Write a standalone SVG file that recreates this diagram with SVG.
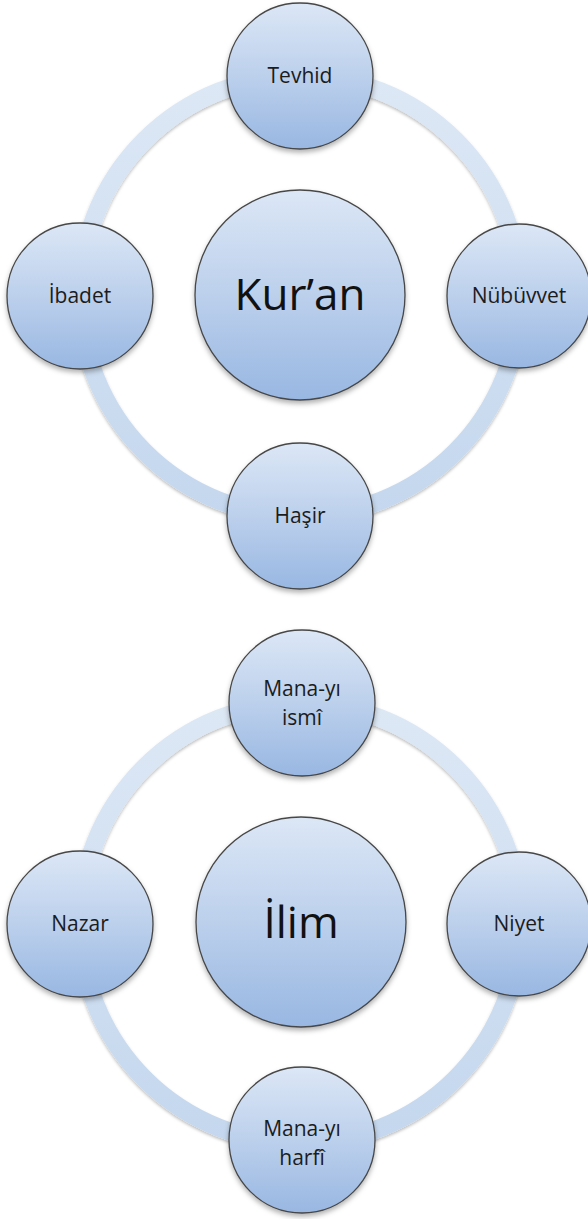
<svg xmlns="http://www.w3.org/2000/svg" width="588" height="1219" viewBox="0 0 588 1219">
  <defs>
    <linearGradient id="nodeFill" x1="0" y1="0" x2="0" y2="1">
      <stop offset="0" stop-color="#dce7f6"/>
      <stop offset="0.5" stop-color="#bcd0ec"/>
      <stop offset="1" stop-color="#98b7e2"/>
    </linearGradient>
    <linearGradient id="ringTop" x1="0" y1="0" x2="0" y2="1">
      <stop offset="0" stop-color="#dde8f5"/>
      <stop offset="1" stop-color="#c4d7ee"/>
    </linearGradient>
    <filter id="shadow" x="-20%" y="-20%" width="140%" height="150%">
      <feDropShadow dx="0" dy="3" stdDeviation="2.5" flood-color="#000" flood-opacity="0.3"/>
    </filter>
    <filter id="ringShadow" x="-10%" y="-10%" width="120%" height="120%">
      <feDropShadow dx="0" dy="2" stdDeviation="1.5" flood-color="#000" flood-opacity="0.25"/>
    </filter>
  </defs>
  <style>
    .node { fill: url(#nodeFill); stroke: #474747; stroke-width: 1.3; filter: url(#shadow); }
    .ring { fill: none; stroke: url(#ringTop); stroke-width: 18; filter: url(#ringShadow); }
    .lbl { font-family: "Open Sans", "Liberation Sans", sans-serif; font-size: 21px; fill: #1c1c1c; text-anchor: middle; }
    .big { font-family: "Open Sans", "Liberation Sans", sans-serif; font-size: 44px; fill: #111; text-anchor: middle; }
  </style>
  <rect width="588" height="1219" fill="#ffffff"/>

  <g id="connectors">
    <circle class="ring" cx="300" cy="296" r="220"/>
    <circle class="ring" cx="300" cy="923" r="220"/>
  </g>

  <g id="kuran">
    <circle class="node" cx="300" cy="295" r="105"/>
    <text class="big" x="300" y="310">Kur’an</text>
  </g>
  <g id="tevhid">
    <circle class="node" cx="300" cy="76" r="73"/>
    <text class="lbl" x="300" y="83">Tevhid</text>
  </g>
  <g id="nubuvvet">
    <circle class="node" cx="519" cy="296" r="72"/>
    <text class="lbl" x="519" y="303">Nübüvvet</text>
  </g>
  <g id="hasir">
    <circle class="node" cx="300" cy="516" r="73"/>
    <text class="lbl" x="300" y="523">Haşir</text>
  </g>
  <g id="ibadet">
    <circle class="node" cx="80" cy="296" r="73"/>
    <text class="lbl" x="80" y="303">İbadet</text>
  </g>

  <g id="ilim">
    <circle class="node" cx="301" cy="922" r="105"/>
    <text class="big" x="301" y="938">İlim</text>
  </g>
  <g id="mana-ismi">
    <circle class="node" cx="302" cy="703" r="73"/>
    <text class="lbl" x="302" y="696">Mana-yı</text>
    <text class="lbl" x="302" y="725">ismî</text>
  </g>
  <g id="niyet">
    <circle class="node" cx="519" cy="924" r="72"/>
    <text class="lbl" x="519" y="931">Niyet</text>
  </g>
  <g id="mana-harfi">
    <circle class="node" cx="302" cy="1140" r="73"/>
    <text class="lbl" x="302" y="1136">Mana-yı</text>
    <text class="lbl" x="302" y="1165">harfî</text>
  </g>
  <g id="nazar">
    <circle class="node" cx="80" cy="924" r="73"/>
    <text class="lbl" x="80" y="931">Nazar</text>
  </g>
</svg>
